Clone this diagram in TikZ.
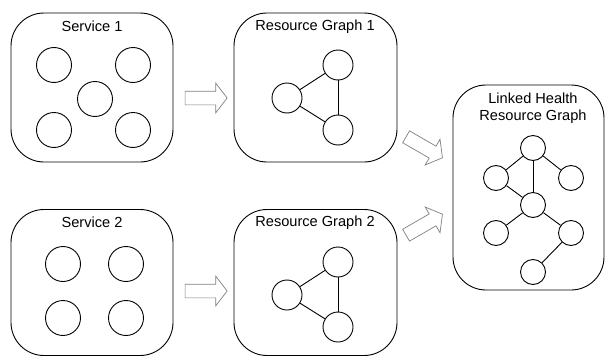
\documentclass[tikz,border=0pt]{standalone}
\usepackage{fontspec}
\setmainfont{Liberation Sans}
\usetikzlibrary{shapes.arrows}
\tikzset{
  panel/.style={draw, line width=0.9pt, rounded corners=33pt, inner sep=0pt},
  vtx/.style={draw, circle, line width=0.9pt, inner sep=0pt, minimum size=#1},
  vtx/.default=35pt,
  ttl/.style={font=\fontsize{14.6}{17}\selectfont, inner sep=0pt, align=center},
  flow/.style={single arrow, draw=gray, fill=white, line width=0.7pt,
    inner xsep=0pt, inner ysep=6.5pt,
    minimum width=29pt, minimum height=42pt, single arrow head extend=8pt,
    single arrow tip angle=105, single arrow head indent=0pt}
}
\begin{document}
\begin{tikzpicture}[x=1pt,y=-1pt]
      \useasboundingbox (0,0) rectangle (605,356);
      % boxes
      \node[panel, minimum width=162pt, minimum height=149pt] (svc1) at (92,87.5) {};
      \node[panel, minimum width=163pt, minimum height=149pt] (rg1) at (315.5,87.5) {};
      \node[panel, minimum width=162pt, minimum height=146pt] (svc2) at (92,282.5) {};
      \node[panel, minimum width=163pt, minimum height=146pt] (rg2) at (315.5,282.5) {};
      \node[panel, minimum width=151pt, minimum height=205pt] (lhrg) at (528.5,187.5) {};
      \draw
        (92,26) node[ttl] (svc1t){Service 1}
        (315,27) node[ttl] (rg1t){Resource Graph 1}
        (92,222) node[ttl] (svc2t){Service 2}
        (315,223) node[ttl] (rg2t){Resource Graph 2}
        (533,108) node[ttl] (lhrgt){Linked Health\\Resource Graph};
      % service 1
      \draw
        (54,65) node[vtx] (s1a){}
        (133,65) node[vtx] (s1b){}
        (95,99) node[vtx] (s1c){}
        (54,130) node[vtx] (s1d){}
        (133,130) node[vtx] (s1e){};
      % service 2
      \draw
        (63,264) node[vtx] (s2a){}
        (126,264) node[vtx] (s2b){}
        (63,318) node[vtx] (s2c){}
        (126,318) node[vtx] (s2d){};
      % resource graph 1
      \draw
        (287,98) node[vtx=30pt] (r1a){}
        (338,65) node[vtx=30pt] (r1b){}
        (338,130) node[vtx=30pt] (r1c){};
      % resource graph 2
      \draw
        (287,295) node[vtx=30pt] (r2a){}
        (338,262) node[vtx=30pt] (r2b){}
        (338,327) node[vtx=30pt] (r2c){};
      % linked graph
      \draw
        (533,148) node[vtx=25pt] (0){}
        (496,178) node[vtx=25pt] (1){}
        (571,178) node[vtx=25pt] (2){}
        (533,205) node[vtx=25pt] (3){}
        (496,233) node[vtx=25pt] (4){}
        (571,233) node[vtx=25pt] (5){}
        (533,272) node[vtx=25pt] (6){};
      \begin{scope}[-, line width=0.9pt]
        \draw (r1a) to (r1b);
        \draw (r1a) to (r1c);
        \draw (r1b) to (r1c);
        \draw (r2a) to (r2b);
        \draw (r2a) to (r2c);
        \draw (r2b) to (r2c);
        \draw (0) to (1);
        \draw (0) to (2);
        \draw (0) to (3);
        \draw (1) to (3);
        \draw (3) to (4);
        \draw (3) to (5);
        \draw (5) to (6);
      \end{scope}
      % block arrows
      \node[flow] (f1) at (203.5,98) {};
      \node[flow] (f2) at (203.5,291) {};
      \node[flow, rotate=-30] (f3) at (422,146) {};
      \node[flow, rotate=30] (f4) at (422,226) {};
    \end{tikzpicture}
\end{document}
